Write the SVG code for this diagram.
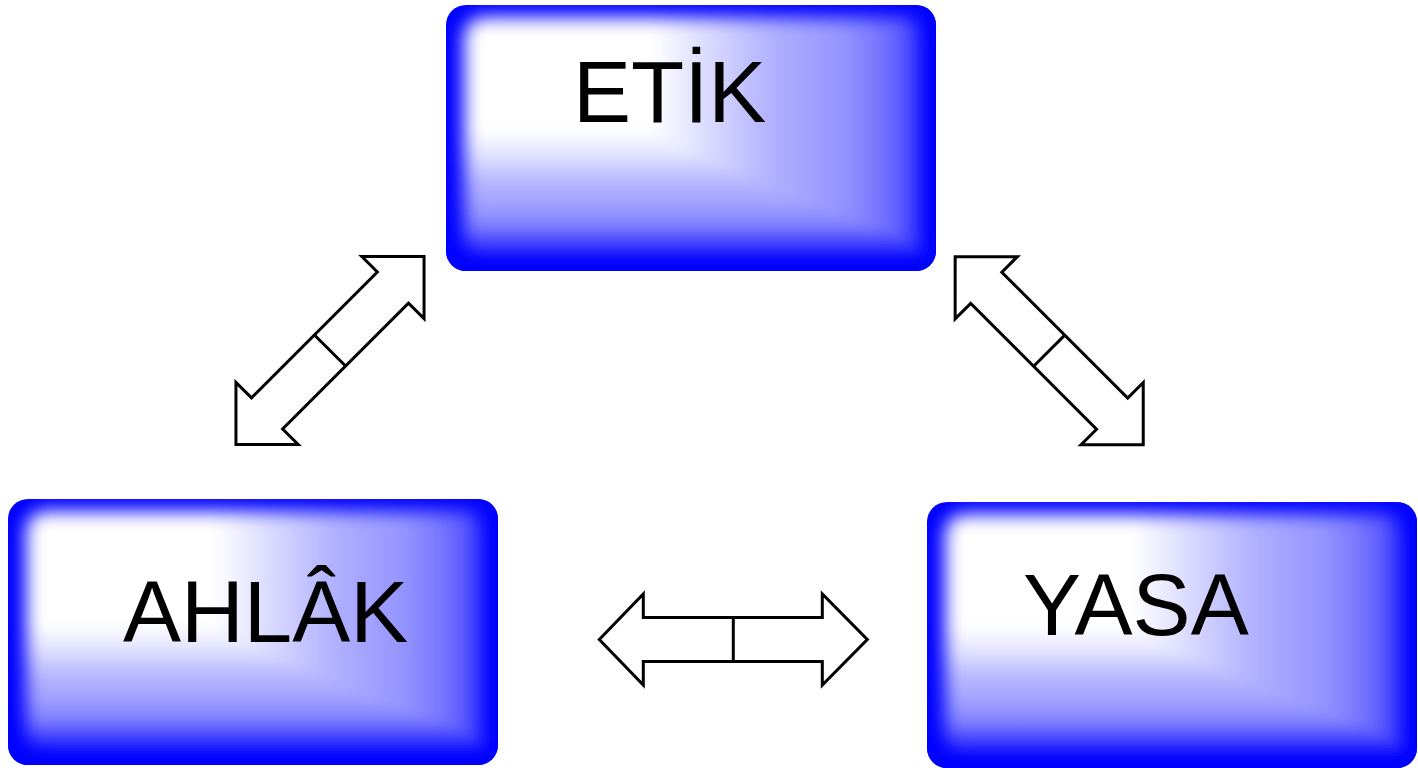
<svg xmlns="http://www.w3.org/2000/svg" xmlns:xlink="http://www.w3.org/1999/xlink" width="1418" height="768" viewBox="0 0 1418 768">
  <style>
    .label { font-family: "Liberation Sans", Arial, sans-serif; font-size: 87px; fill: #000; }
    .arrow { fill: #fff; stroke: #000; stroke-width: 3; stroke-linejoin: miter; }
  </style>
  <defs>
    <!-- shading towards the right edge -->
    <linearGradient id="shadeX" gradientUnits="userSpaceOnUse" x1="205" y1="0" x2="490" y2="0">
      <stop offset="0" stop-color="#ffffff"/>
      <stop offset="0.196" stop-color="#dbdbff"/>
      <stop offset="0.428" stop-color="#b0b0ff"/>
      <stop offset="0.663" stop-color="#9595ff"/>
      <stop offset="0.779" stop-color="#7c7cff"/>
      <stop offset="0.874" stop-color="#5e5eff"/>
      <stop offset="0.961" stop-color="#1414ff"/>
      <stop offset="1" stop-color="#0000ff"/>
    </linearGradient>
    <!-- shading towards the bottom edge -->
    <linearGradient id="shadeY" gradientUnits="userSpaceOnUse" x1="0" y1="125" x2="0" y2="266">
      <stop offset="0" stop-color="#ffffff"/>
      <stop offset="0.177" stop-color="#e2e2ff"/>
      <stop offset="0.355" stop-color="#b8b8ff"/>
      <stop offset="0.532" stop-color="#a0a0ff"/>
      <stop offset="0.674" stop-color="#8080ff"/>
      <stop offset="0.816" stop-color="#3838ff"/>
      <stop offset="0.922" stop-color="#0808ff"/>
      <stop offset="1" stop-color="#0000ff"/>
    </linearGradient>
    <clipPath id="btnClip">
      <rect width="490" height="266" rx="20" ry="20"/>
    </clipPath>
    <filter id="rimBlur" filterUnits="userSpaceOnUse" x="-100" y="-100" width="690" height="466">
      <feGaussianBlur stdDeviation="9"/>
    </filter>
    <filter id="shadeBlur" filterUnits="userSpaceOnUse" x="-40" y="-40" width="570" height="346">
      <feGaussianBlur stdDeviation="6"/>
    </filter>

    <!-- glossy blue button, 490 x 266 -->
    <g id="button">
      <g clip-path="url(#btnClip)">
        <g filter="url(#shadeBlur)">
          <g style="isolation:isolate">
            <rect x="-30" y="-30" width="550" height="326" fill="url(#shadeX)"/>
            <rect x="-30" y="-30" width="550" height="326" fill="url(#shadeY)" style="mix-blend-mode:darken"/>
          </g>
        </g>
        <!-- soft blue bevel along the border -->
        <path fill="#0000ff" fill-rule="evenodd" filter="url(#rimBlur)"
              d="M -60 -60 H 550 V 326 H -60 Z
                 M 38 12 H 464 A 20 20 0 0 1 484 32 V 238 A 20 20 0 0 1 464 258 H 38 A 20 20 0 0 1 18 238 V 32 A 20 20 0 0 1 38 12 Z"/>
      </g>
    </g>

    <!-- horizontal double-headed block arrow, centred on the origin -->
    <g id="dblArrowH">
      <path class="arrow" d="M -134 0 L -90 -45.5 L -90 -22 L 89 -22 L 89 -45.5 L 134 0 L 89 45.5 L 89 22 L -90 22 L -90 45.5 Z"/>
      <path class="arrow" d="M 0 -22 V 22"/>
    </g>
    <!-- diagonal double-headed block arrow (square heads), centred on the origin -->
    <g id="dblArrowD">
      <path class="arrow" d="M -133 0 L -89 -44 L -89 -22 L 89 -22 L 89 -44 L 133 0 L 89 44 L 89 22 L -89 22 L -89 44 Z"/>
      <path class="arrow" d="M 0 -22 V 22"/>
    </g>
  </defs>

  <g id="connectors">
    <use xlink:href="#dblArrowD" transform="translate(330 350.5) rotate(-45)"/>
    <use xlink:href="#dblArrowD" transform="translate(1049.2 350.7) rotate(45)"/>
    <use xlink:href="#dblArrowH" transform="translate(733.3 639.5)"/>
  </g>

  <g id="node-etik">
    <use xlink:href="#button" transform="translate(446 5)"/>
    <text class="label" x="573" y="122">ETİK</text>
  </g>

  <g id="node-ahlak">
    <use xlink:href="#button" transform="translate(8 499)"/>
    <text class="label" x="123" y="642">AHLÂK</text>
  </g>

  <g id="node-yasa">
    <use xlink:href="#button" transform="translate(927 502)"/>
    <text class="label" x="1023" y="635">YASA</text>
  </g>
</svg>
